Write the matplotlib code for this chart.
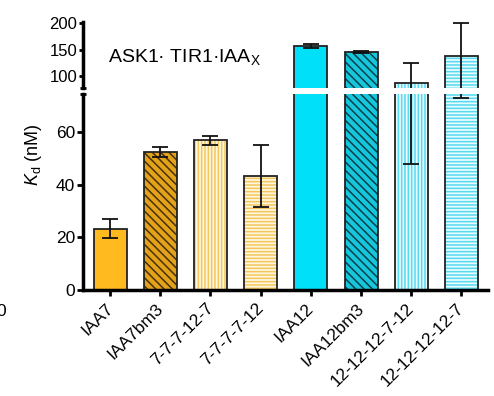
import matplotlib
matplotlib.use('Agg')
import matplotlib.pyplot as plt
import matplotlib.transforms as mtransforms
import numpy as np

plt.rcParams['font.family'] = ['Liberation Sans', 'DejaVu Sans']
plt.rcParams['mathtext.fontset'] = 'custom'
plt.rcParams['mathtext.rm'] = 'Liberation Sans'
plt.rcParams['mathtext.it'] = 'Liberation Sans:italic'
plt.rcParams['hatch.linewidth'] = 1.1

# ---- data ----
categories = ['IAA7', 'IAA7bm3', '7-7-7-12-7', '7-7-7-7-12',
              'IAA12', 'IAA12bm3', '12-12-12-7-12', '12-12-12-12-7']
kd_values = [23.4, 52.6, 57.1, 43.4, 157.0, 145.5, 86.0, 137.0]
kd_errors = [3.6, 2.0, 1.7, 11.7, 4.3, 1.5, 38.0, 64.0]
lower_ticks = [0, 20, 40, 60]
upper_ticks = [100, 150, 200]

# ---- styles ----
face = ['#FFBA1F', '#E2A21C', '#FFF7DC', '#FFF7DC',
        '#00E0F8', '#16C6DC', '#E8FBFF', '#E8FBFF']
hatches = [None, '\\\\\\\\', '|||||', '-----', None, '\\\\\\\\', '|||||', '-----']
hatch_col = [None, '#4A3200', '#F4C660', '#F4C660',
             None, '#053F4A', '#55DAF0', '#55DAF0']

fig = plt.figure(figsize=(4.94, 3.96), dpi=100)
ax_lo = fig.add_axes([0.168, 0.2677, 0.820, 0.494])
ax_hi = fig.add_axes([0.168, 0.7778, 0.820, 0.1674])

x = np.arange(len(categories))
w = 0.66
for ax in (ax_lo, ax_hi):
    for i in range(len(categories)):
        if hatches[i]:
            ax.bar(x[i], kd_values[i], width=w, color=face[i],
                   edgecolor=hatch_col[i], hatch=hatches[i], linewidth=0)
            ax.bar(x[i], kd_values[i], width=w, fill=False,
                   edgecolor='#222222', linewidth=1.3)
        else:
            ax.bar(x[i], kd_values[i], width=w, color=face[i],
                   edgecolor='#222222', linewidth=1.3)
    ax.errorbar(x, kd_values, yerr=kd_errors, fmt='none', ecolor='#111111',
                elinewidth=1.3, capsize=6, capthick=1.3)
    ax.set_xlim(-0.54, 7.53)
    for s in ('top', 'right'):
        ax.spines[s].set_visible(False)
    ax.spines['left'].set_linewidth(2.5)

ax_lo.set_ylim(0, 74.5)
ax_hi.set_ylim(77.2, 203)
ax_lo.spines['bottom'].set_linewidth(2.5)
ax_hi.spines['bottom'].set_visible(False)

ax_lo.set_yticks(lower_ticks)
ax_hi.set_yticks(upper_ticks)
ax_lo.tick_params(axis='y', length=4, width=2, pad=1.5, labelsize=12.5)
ax_hi.tick_params(axis='y', length=3, width=2, pad=1, labelsize=12)
ax_hi.tick_params(axis='x', bottom=False, labelbottom=False)
ax_lo.set_xticks(x)
ax_lo.set_xticklabels(categories, rotation=45, ha='right',
                      rotation_mode='anchor', fontsize=12.5)
ax_lo.tick_params(axis='x', length=4, width=2, pad=3)
offset = mtransforms.ScaledTranslation(-5 / 100, -1 / 100, fig.dpi_scale_trans)
for lbl in ax_lo.get_xticklabels():
    lbl.set_transform(lbl.get_transform() + offset)

# break serifs at spine ends
ax_hi.plot([0], [0], transform=ax_hi.transAxes, marker='_', ms=5, mew=2,
           color='k', clip_on=False)
ax_lo.plot([0], [1], transform=ax_lo.transAxes, marker='_', ms=5, mew=2,
           color='k', clip_on=False)

fig.text(33 / 494, 1 - 155 / 396, '$K_\\mathrm{d}$ (nM)', rotation=90,
         ha='center', va='center', fontsize=13)
fig.text(108 / 494, 1 - 57 / 396, 'ASK1· TIR1·IAA$_\\mathrm{X}$',
         ha='left', va='center', fontsize=14)
fig.text(-0.008, 1 - 311 / 396, '0', ha='left', va='center', fontsize=12.5)

fig.savefig('out.png', dpi=100)
